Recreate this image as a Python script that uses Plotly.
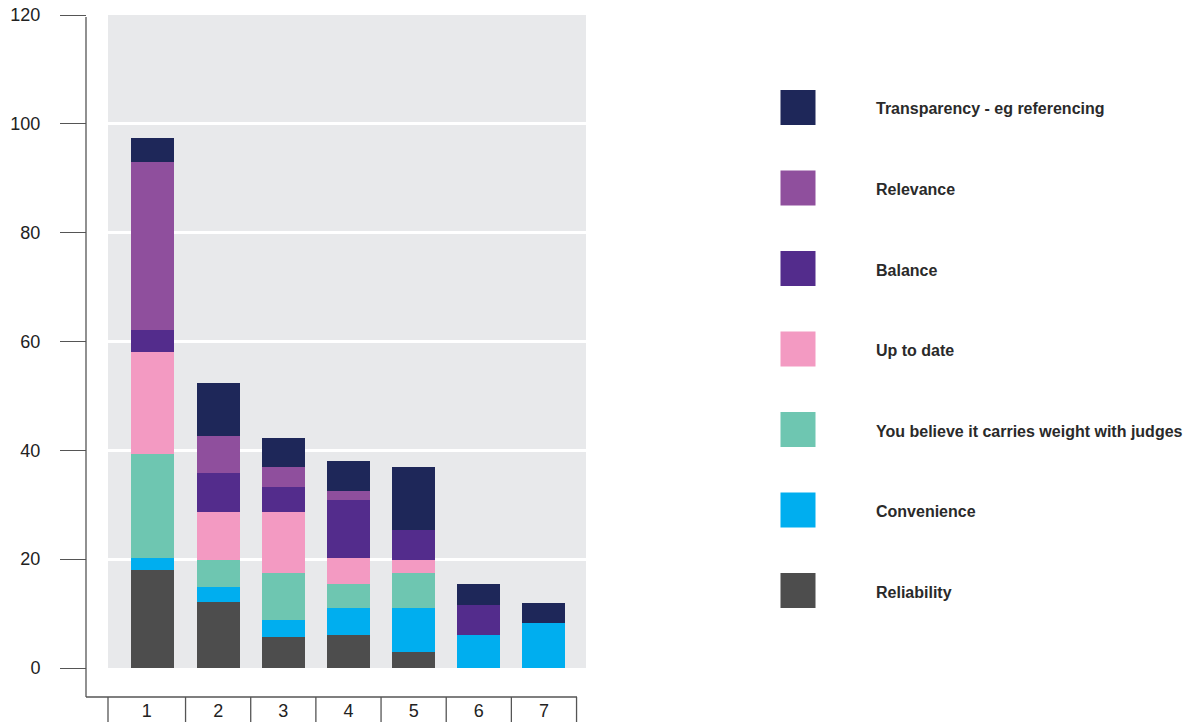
import plotly.graph_objects as go

categories = ["1", "2", "3", "4", "5", "6", "7"]
x_pos = [1, 2, 3, 4, 5, 6, 7]

reliability = [18.0, 12.1, 5.7, 6.0, 2.9, 0, 0]
convenience = [2.3, 2.7, 3.2, 5.0, 8.1, 6.0, 8.3]
judges = [19.0, 5.0, 8.5, 4.5, 6.4, 0, 0]
up_to_date = [18.7, 8.8, 11.3, 4.8, 2.4, 0, 0]
balance = [4.1, 7.2, 4.5, 10.6, 5.5, 5.6, 0]
relevance = [30.9, 6.8, 3.7, 1.7, 0, 0, 0]
transparency = [4.4, 9.8, 5.4, 5.5, 11.6, 3.9, 3.6]

series_names = ["Reliability", "Convenience", "You believe it carries weight with judges",
                "Up to date", "Balance", "Relevance", "Transparency - eg referencing"]
series_values = [reliability, convenience, judges, up_to_date, balance, relevance, transparency]
series_colors = ["#4d4d4d", "#00aeef", "#6ec6b1", "#f39ac2", "#532c8c", "#8f4f9d", "#1e2759"]

y_ticks = [0, 20, 40, 60, 80, 100, 120]

W, H = 1191, 722
ml, mr, mt, mb = 86, 605, 15, 25
pw = W - ml - mr      # paper width  (500)
ph = H - mt - mb      # paper height (682)
x_dom0 = 22 / pw
y_dom0 = 29 / ph
x_range = [0.31, 7.645]

fig = go.Figure()
for name, vals, col in zip(series_names, series_values, series_colors):
    fig.add_trace(go.Bar(x=x_pos, y=vals, name=name, marker_color=col,
                         marker_line_width=0, width=0.66, showlegend=False))

font_fam = "Liberation Sans, Arial, Helvetica, sans-serif"
axis_col = "#555555"

shapes = []
# y axis line
shapes.append(dict(type="line", xref="paper", yref="paper", x0=0, x1=0, y0=0, y1=0.997,
                   line=dict(color=axis_col, width=1.3)))
# bottom horizontal line
shapes.append(dict(type="line", xref="paper", yref="paper", x0=0, x1=(577 - ml) / pw, y0=0, y1=0,
                   line=dict(color=axis_col, width=1.3)))
# category cell separators
shapes.append(dict(type="line", xref="paper", yref="paper", x0=x_dom0, x1=x_dom0, y0=0, y1=-mb / ph,
                   line=dict(color=axis_col, width=1.3)))
for k in range(1, 8):
    shapes.append(dict(type="line", xref="x", yref="paper", x0=k + 0.5, x1=k + 0.5, y0=0, y1=-mb / ph,
                       line=dict(color=axis_col, width=1.3)))

# legend (drawn manually to match large swatches)
annotations = []
legend_centers = [107.5, 188, 268.5, 349, 429.5, 510, 590.5]
for i, (name, col) in enumerate(zip(series_names[::-1], series_colors[::-1])):
    cy = legend_centers[i]
    shapes.append(dict(type="rect", xref="paper", yref="paper",
                       x0=(780.5 - ml) / pw, x1=(815.5 - ml) / pw,
                       y0=(H - mb - (cy + 17.5)) / ph, y1=(H - mb - (cy - 17.5)) / ph,
                       fillcolor=col, line=dict(width=0)))
    annotations.append(dict(xref="paper", yref="paper", x=(874 - ml) / pw, y=(H - mb - cy - 1.5) / ph,
                            text="<b>" + name + "</b>", showarrow=False, xanchor="left", yanchor="middle",
                            font=dict(family=font_fam, size=16, color="#2a2a2a")))

label_vals = [(x_range[0] + 1.5) / 2] + x_pos[1:]

fig.update_layout(
    width=W, height=H,
    margin=dict(l=ml, r=mr, t=mt, b=mb, autoexpand=False),
    barmode="stack",
    paper_bgcolor="white",
    plot_bgcolor="#e8e9eb",
    font=dict(family=font_fam, color="#222222"),
    xaxis=dict(domain=[x_dom0, 1], range=x_range, anchor="free", position=0,
               tickmode="array", tickvals=label_vals, ticktext=categories,
               ticks="", showline=False, showgrid=False, zeroline=False,
               tickfont=dict(size=18, color="#222222"), ticklabelstandoff=1,
               fixedrange=True),
    yaxis=dict(domain=[y_dom0, 1], range=[0, 120], anchor="free", position=0,
               tickmode="array", tickvals=y_ticks,
               ticks="outside", ticklen=26, tickwidth=1.3, tickcolor=axis_col,
               showline=False, showgrid=True, gridcolor="white", gridwidth=2.5,
               zeroline=False, tickfont=dict(size=18, color="#222222"),
               ticklabelstandoff=16, automargin=False, fixedrange=True),
    shapes=shapes,
    annotations=annotations,
    showlegend=False,
    bargap=0.34,
)

fig.write_html("out.html")
